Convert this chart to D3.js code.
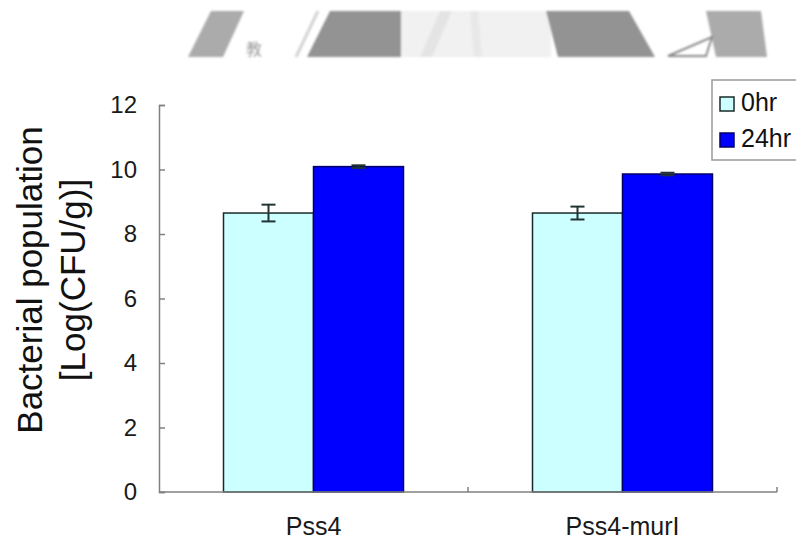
<!DOCTYPE html>
<html>
<head>
<meta charset="utf-8">
<script src="https://cdn.jsdelivr.net/npm/d3@7"></script>
<style>
  html, body { margin: 0; padding: 0; background: #fff; }
  svg { display: block; font-family: "Liberation Sans", Arial, sans-serif; }
</style>
</head>
<body>
<svg id="chart" width="796" height="545"></svg>
<script>
// Strains and sampling times
const categories = ["Pss4", "Pss4-murI"];
const series = ["0hr", "24hr"];

// Mean population, Log(CFU/g), per strain
const values0hr = [8.65, 8.65];
const values24hr = [10.09, 9.86];

// Standard error per strain
const errors0hr = [0.26, 0.20];
const errors24hr = [0.04, 0.04];

const yTicks = [0, 2, 4, 6, 8, 10, 12];
const yTitleLines = ["Bacterial population", "[Log(CFU/g)]"];

const fills = { "0hr": "#ccffff", "24hr": "#0000ff" };
const strokes = { "0hr": "#1a2a2a", "24hr": "#000066" };

const rows = categories.map((c, i) => ({
  category: c,
  bars: [
    { series: "0hr", value: values0hr[i], err: errors0hr[i] },
    { series: "24hr", value: values24hr[i], err: errors24hr[i] }
  ]
}));

const svg = d3.select("#chart");

// Faded seal watermark band along the top
const defs = svg.append("defs");
defs.append("filter").attr("id", "soft").append("feGaussianBlur").attr("stdDeviation", 0.8);
const wm = svg.append("g").attr("class", "watermark").attr("filter", "url(#soft)");
const poly = d3.line();
wm.append("rect").attr("x", 401).attr("y", 11).attr("width", 150).attr("height", 46).attr("fill", "#f1f1f1");
[
  { pts: [[211,11],[244,11],[223,57],[188,57]], fill: "#ababab" },
  { pts: [[330,11],[401,11],[401,57],[307,57]], fill: "#939393" },
  { pts: [[546,11],[629,11],[655,57],[558,57]], fill: "#939393" },
  { pts: [[706,11],[761,11],[767,57],[716,57]], fill: "#ababab" },
  { pts: [[440,11],[452,11],[432,57],[420,57]], fill: "#e4e4e4" },
  { pts: [[470,11],[478,11],[482,57],[474,57]], fill: "#e8e8e8" }
].forEach(p => {
  wm.append("path").attr("d", poly(p.pts) + "Z").attr("fill", p.fill);
});
wm.append("path").attr("d", poly([[318,11],[296,57]])).attr("stroke", "#d4d4d4").attr("stroke-width", 3);
wm.append("path").attr("d", poly([[668,56],[712,37],[706,56]]) + "Z")
  .attr("fill", "none").attr("stroke", "#8a8a8a").attr("stroke-width", 2);
wm.append("text").attr("x", 246).attr("y", 55).attr("font-size", 16)
  .attr("fill", "#9a9a9a").attr("font-family", "Noto Sans CJK TC").text("教");

// Scales
const x0 = d3.scaleBand().domain(categories).range([159, 777]).padding(0);
const x1 = d3.scaleBand().domain(series).range([64.5, 244.5]).padding(0);
const y = d3.scaleLinear().domain([0, 12]).range([492, 105]);

// Bars
const groups = svg.append("g").selectAll("g.group").data(rows).join("g")
  .attr("class", "group")
  .attr("transform", d => `translate(${x0(d.category)},0)`);

groups.selectAll("rect").data(d => d.bars).join("rect")
  .attr("x", d => x1(d.series))
  .attr("y", d => y(d.value))
  .attr("width", x1.bandwidth())
  .attr("height", d => y(0) - y(d.value))
  .attr("fill", d => fills[d.series])
  .attr("stroke", d => strokes[d.series])
  .attr("stroke-width", 1.5);

// Error bars
const eb = groups.selectAll("g.err").data(d => d.bars).join("g").attr("class", "err")
  .attr("transform", d => `translate(${x1(d.series) + x1.bandwidth() / 2},0)`);
eb.append("line")
  .attr("y1", d => y(d.value + d.err)).attr("y2", d => y(d.value - d.err))
  .attr("stroke", "#223333").attr("stroke-width", 2);
eb.selectAll("line.cap").data(d => [d.value + d.err, d.value - d.err]).join("line")
  .attr("class", "cap")
  .attr("x1", -7).attr("x2", 7)
  .attr("y1", v => y(v)).attr("y2", v => y(v))
  .attr("stroke", "#223333").attr("stroke-width", 2);

// Y axis
const yAxis = d3.axisLeft(y).tickValues(yTicks).tickSizeInner(-6).tickSizeOuter(-6).tickPadding(22);
const gy = svg.append("g").attr("transform", "translate(159,0)").call(yAxis);
gy.select(".domain").attr("stroke", "#808080").attr("stroke-width", 1.5);
gy.selectAll(".tick line").attr("stroke", "#808080").attr("stroke-width", 1.5);
gy.selectAll(".tick text").attr("font-size", 24).attr("fill", "#1a1a1a")
  .attr("font-family", "Liberation Sans, Arial, sans-serif");

// X axis: ticks between categories, labels centered
const gx = svg.append("g").attr("transform", `translate(0,${y(0)})`);
gx.append("line").attr("x1", x0.range()[0]).attr("x2", x0.range()[1])
  .attr("stroke", "#808080").attr("stroke-width", 1.5);
const edges = categories.map(c => x0(c)).concat([x0.range()[1]]);
gx.selectAll("line.tk").data(edges.slice(1)).join("line").attr("class", "tk")
  .attr("x1", d => d).attr("x2", d => d).attr("y1", 0).attr("y2", -5)
  .attr("stroke", "#808080").attr("stroke-width", 1.5);
gx.selectAll("text").data(categories).join("text")
  .attr("x", d => x0(d) + x0.bandwidth() / 2)
  .attr("y", 43)
  .attr("text-anchor", "middle")
  .attr("font-size", 25)
  .attr("fill", "#1a1a1a")
  .text(d => d);

// Y title
const yt = svg.append("text")
  .attr("transform", "translate(42,280) rotate(-90)")
  .attr("text-anchor", "middle")
  .attr("font-size", 35)
  .attr("fill", "#111");
yt.selectAll("tspan").data(yTitleLines).join("tspan")
  .attr("x", 0).attr("dy", (d, i) => i === 0 ? 0 : 43).text(d => d);

// Legend
const lg = svg.append("g").attr("transform", "translate(712,80)");
lg.append("rect").attr("width", 100).attr("height", 80)
  .attr("fill", "#fff").attr("stroke", "#9a9a9a").attr("stroke-width", 1.5);
const li = lg.selectAll("g.item").data(series).join("g").attr("class", "item")
  .attr("transform", (d, i) => `translate(8,${17 + i * 36})`);
li.append("rect").attr("width", 14).attr("height", 14)
  .attr("fill", d => fills[d]).attr("stroke", d => strokes[d]).attr("stroke-width", 1.5);
li.append("text").attr("x", 21).attr("y", 14).attr("font-size", 25).attr("fill", "#111").text(d => d);
</script>
</body>
</html>
